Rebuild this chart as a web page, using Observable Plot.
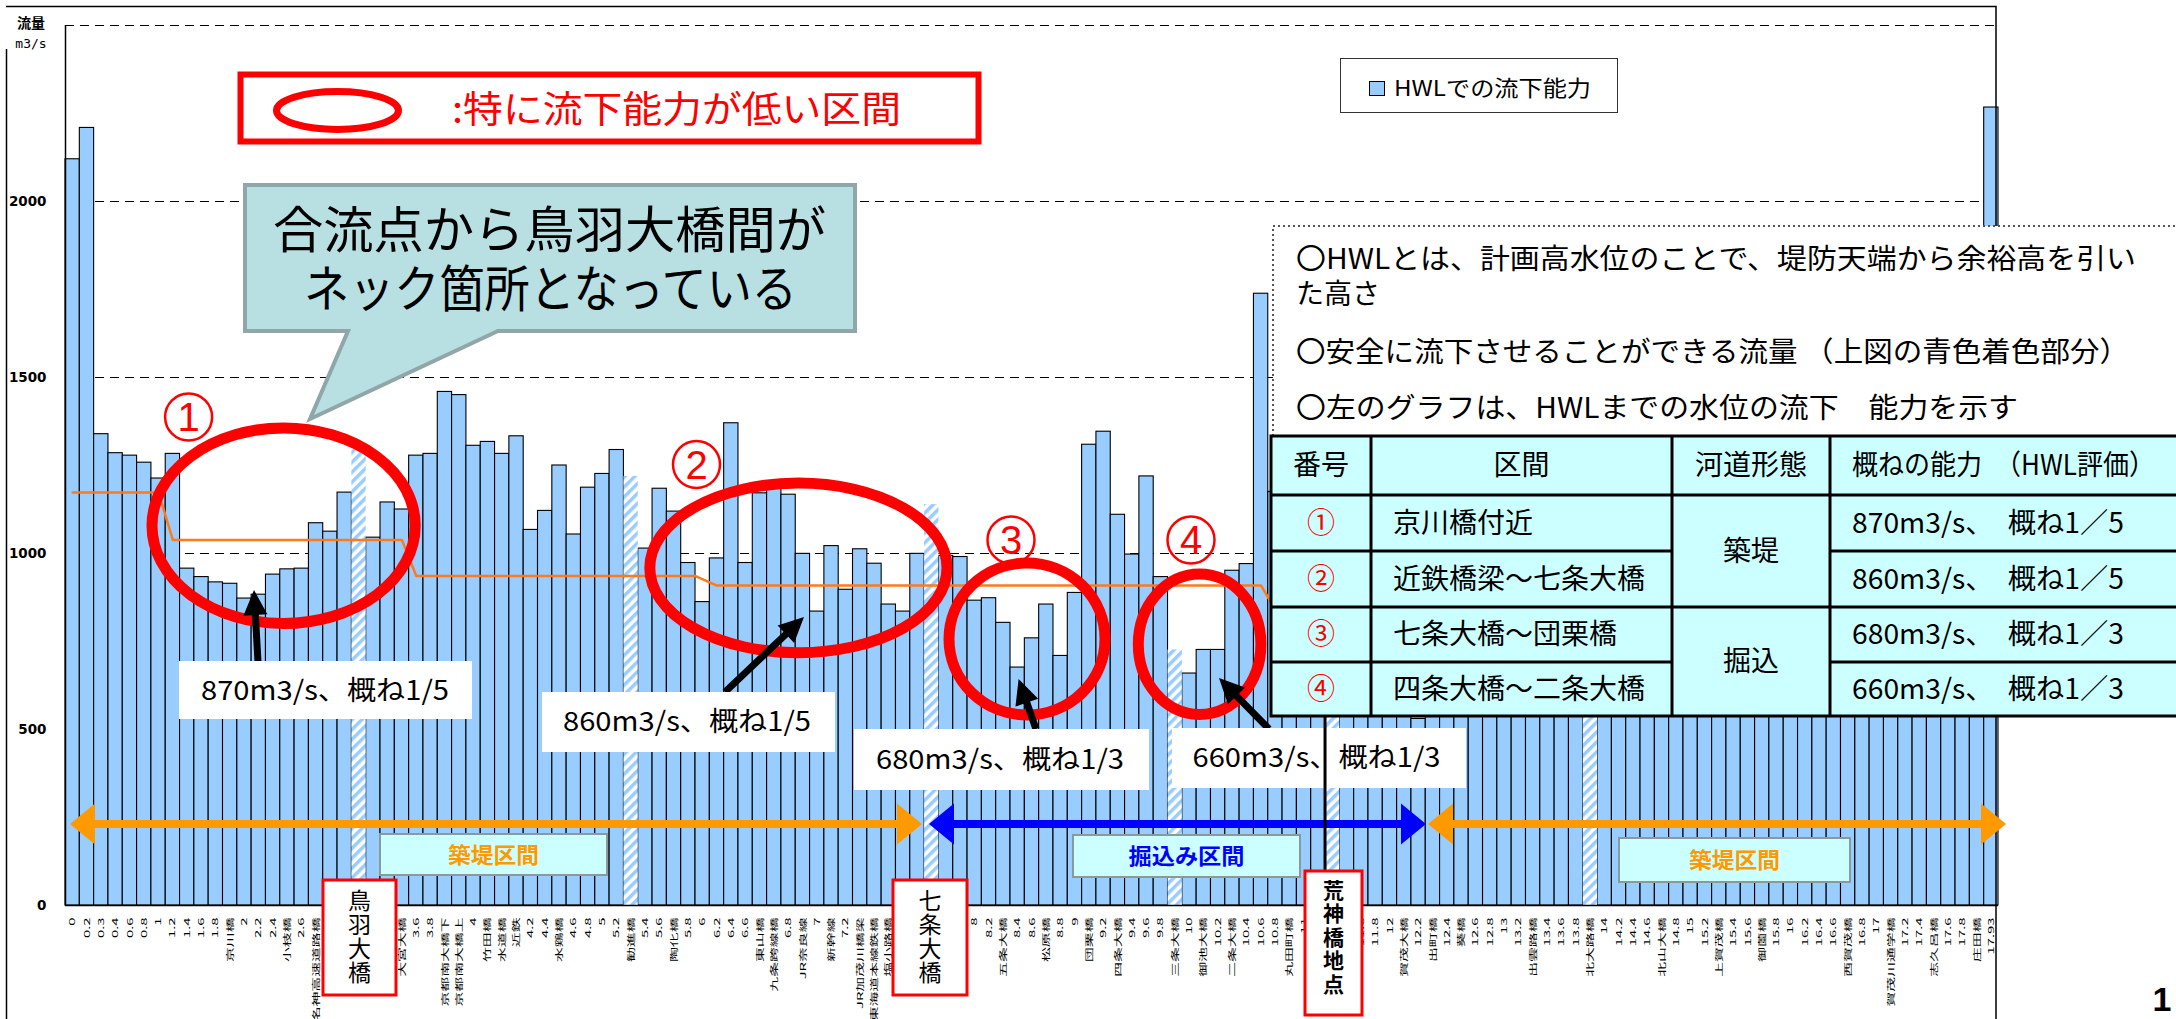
<!DOCTYPE html>
<html><head><meta charset="utf-8">
<script src="https://cdn.jsdelivr.net/npm/d3@7"></script>
<script src="https://cdn.jsdelivr.net/npm/@observablehq/plot@0.6"></script>
<style>
html,body{margin:0;padding:0;background:#fff;overflow:hidden;}
#chart{position:relative;width:2176px;height:1019px;}
</style></head><body><div id="chart"></div>
<script>
// ---- data ----
const labels = [
"0","0.2","0.3","0.4","0.6","0.8","1","1.2","1.4","1.6",
"1.8","京川橋","2","2.2","2.4","小枝橋","2.6","名神高速道路橋","","",
"","","","大宮大橋","3.6","3.8","京都南大橋下","京都南大橋上","4","竹田橋",
"水道橋","近鉄","4.2","4.4","水鶏橋","4.6","4.8","5","5.2","勧進橋",
"5.4","5.6","陶化橋","5.8","6","6.2","6.4","6.6","東山橋","九条跨線橋",
"6.8","JR奈良線","7","新幹線","7.2","JR加茂川橋梁","東海道本線鉄橋","塩小路橋","","",
"","","","8","8.2","五条大橋","8.4","8.6","松原橋","8.8",
"9","団栗橋","9.2","四条大橋","9.4","9.6","9.8","三条大橋","10","御池大橋",
"10.2","二条大橋","10.4","10.6","10.8","丸田町橋","11","","","",
"11.6","11.8","12","賀茂大橋","12.2","出町橋","12.4","葵橋","12.6","12.8",
"13","13.2","出雲路橋","13.4","13.6","13.8","北大路橋","14","14.2","14.4",
"14.6","北山大橋","14.8","15","15.2","上賀茂橋","15.4","15.6","御薗橋","15.8",
"16","16.2","16.4","16.6","西賀茂橋","16.8","17","賀茂川通学橋","17.2","17.4",
"志久呂橋","17.6","17.8","庄田橋","17.93"];
const capacity = [
2120,2209,1339,1285,1278,1258,1213,1283,957,933,
918,914,872,883,940,955,957,1086,1062,1173,
1313,1045,1145,1125,1278,1283,1459,1450,1306,1317,
1283,1333,1067,1121,1250,1054,1187,1226,1294,1219,
1014,1184,1119,973,862,986,1370,973,1171,1184,
1167,999,835,1021,897,1012,971,855,835,999,
1139,993,990,866,873,803,676,759,855,709,
888,1309,1346,1110,997,1219,933,726,659,726,
726,951,970,1738,1175,1180,1120,1150,1200,1250,
1300,1280,1350,1320,530,1280,1350,1400,1380,1420,
1450,1480,1400,1500,1520,1480,1450,1550,1600,1580,
1620,1550,1600,1650,1620,1580,1640,1660,1600,1680,
1700,1650,1720,1700,1680,1740,1760,1700,1780,1800,
1750,1820,1850,1800,2267];
const hatchedBars = [21,40,61,78,89,107];
const landmarkNames = ["鳥羽大橋","七条大橋","荒神橋地点"];
const planIdx  = [1,7,8,24,25,44.5,46,84,85];
const planFlow = [1173,1173,1038,1038,936,936,909,909,840];
const yTicks = [0,500,1000,1500,2000];
const gridValues = [1000,1500,2000,2500];

const bars = capacity.map((v,k)=>({i:k+1, v, label:labels[k], hatch:hatchedBars.includes(k+1)}));
const plan = planIdx.map((i,k)=>({i, v:planFlow[k]}));

const JP = "'Noto Sans CJK JP','Noto Sans',sans-serif";

const plot = Plot.plot({
  width: 2176, height: 1019,
  marginLeft: 65, marginRight: 178, marginTop: 25, marginBottom: 114,
  style: {fontFamily: JP, background: "white", overflow: "visible"},
  x: {type: "linear", domain: [0.5, 135.5]},
  y: {domain: [0, 2500]},
  marks: [
    Plot.ruleY(gridValues, {stroke:"#000", strokeDasharray:"9,6", strokeWidth:1.1}),
    Plot.rect(bars.filter(d=>!d.hatch), {x1:d=>d.i-0.5, x2:d=>d.i+0.5, y1:()=>0, y2:"v", fill:"#99ccff", stroke:"#000", strokeWidth:1.1}),
    Plot.rect(bars.filter(d=>d.hatch), {x1:d=>d.i-0.5, x2:d=>d.i+0.5, y1:()=>0, y2:"v", fill:"url(#hatch)"}),
    Plot.line(plan, {x:"i", y:"v", stroke:"#ff7a1a", strokeWidth:2.5}),
    Plot.ruleX([0.5], {stroke:"#000", strokeWidth:1.5}),
    Plot.ruleY([0], {stroke:"#000", strokeWidth:1.5}),
    Plot.axisX(bars.map(d=>d.i), {tickFormat:i=>labels[i-1], tickRotate:-90, tickSize:0, tickPadding:12, fontSize:14, label:null}),
    Plot.axisY(yTicks, {tickFormat:d=>String(d), tickSize:0, tickPadding:19, fontSize:13.5, fontWeight:"bold", fontFamily:"'DejaVu Sans',sans-serif", label:null})
  ]
});
document.getElementById("chart").appendChild(plot);

const svg = d3.select(plot);
// condensed tick labels like the reference
svg.selectAll('g[aria-label="x-axis tick label"] text').each(function(){
  const t = this.getAttribute("transform") || "";
  this.setAttribute("transform", t + " scale(1.06,0.58)");
});
// hatch pattern
const defs = svg.insert("defs", ":first-child");
const pat = defs.append("pattern").attr("id","hatch").attr("patternUnits","userSpaceOnUse")
  .attr("width",7).attr("height",7).attr("patternTransform","rotate(45)");
pat.append("rect").attr("width",7).attr("height",7).attr("fill","#fff");
pat.append("rect").attr("width",3.5).attr("height",7).attr("fill","#99ccff");

const sx = plot.scale("x"), sy = plot.scale("y");
const X = v => sx.apply(v), Y = v => sy.apply(v);

const g = svg.append("g").attr("font-family", JP).attr("text-anchor","start").attr("fill","#000");
function txt(x,y,s,o={}) { const t=g.append("text").attr("x",x).attr("y",y).attr("text-anchor","start").text(s); for (const k in o) t.attr(k,o[k]); return t; }
// multi-line text in one element: lines = [[x,y,str,textLength|null],...]
function mtxt(lines,o={}) {
  const t=g.append("text").attr("text-anchor","start"); for (const k in o) t.attr(k,o[k]);
  lines.forEach(([x,y,s,w])=>{ const ts=t.append("tspan").attr("x",x).attr("y",y).text(s); if (w) ts.attr("textLength",w).attr("lengthAdjust","spacingAndGlyphs"); });
  return t;
}
function arrowPoly(x1,y1,x2,y2,sw,hw,hl){
  const dx=x2-x1, dy=y2-y1, L=Math.hypot(dx,dy), ux=dx/L, uy=dy/L, nx=-uy, ny=ux;
  const bx=x2-ux*hl, by=y2-uy*hl;
  return [[x1+nx*sw/2,y1+ny*sw/2],[bx+nx*sw/2,by+ny*sw/2],[bx+nx*hw/2,by+ny*hw/2],[x2,y2],
          [bx-nx*hw/2,by-ny*hw/2],[bx-nx*sw/2,by-ny*sw/2],[x1-nx*sw/2,y1-ny*sw/2]].map(p=>p.join(",")).join(" ");
}
function dblArrow(x1,x2,y,sw,hw,hl,color){
  const p=[[x1,y],[x1+hl,y-hw/2],[x1+hl,y-sw/2],[x2-hl,y-sw/2],[x2-hl,y-hw/2],[x2,y],[x2-hl,y+hw/2],[x2-hl,y+sw/2],[x1+hl,y+sw/2],[x1+hl,y+hw/2]];
  g.append("polygon").attr("points",p.map(q=>q.join(",")).join(" ")).attr("fill",color);
}

// outer frame
g.append("path").attr("d","M6,6.5H1996V1019M6.5,49V1019").attr("fill","none").attr("stroke","#000").attr("stroke-width",1.5);
// y unit label
txt(31,28,"流量",{"text-anchor":"middle","font-size":14,"font-weight":"bold"});
txt(31,48,"m3/s",{"text-anchor":"middle","font-size":13,"font-family":"'DejaVu Sans Mono',monospace"});

// red legend box
g.append("rect").attr("x",240.5).attr("y",74.5).attr("width",738).attr("height",67).attr("fill","#fff").attr("stroke","#ff0000").attr("stroke-width",6);
g.append("ellipse").attr("cx",337.5).attr("cy",110.5).attr("rx",61).attr("ry",19).attr("fill","none").attr("stroke","#ff0000").attr("stroke-width",7);
txt(452,123,":特に流下能力が低い区間",{"font-size":37,"fill":"#ff0000","textLength":449,"lengthAdjust":"spacingAndGlyphs"});

// callout
g.append("polygon").attr("points","245,185 855,185 855,331 498,331 310,419 348,331 245,331")
  .attr("fill","#b8dfe2").attr("stroke","#8fa7a9").attr("stroke-width",4).attr("stroke-linejoin","miter");
mtxt([[273,248,"合流点から鳥羽大橋間が",553],[304,307,"ネック箇所となっている",493]],{"font-size":50});

// HWL legend
g.append("rect").attr("x",1340.5).attr("y",58.5).attr("width",277).attr("height",54).attr("fill","#fff").attr("stroke","#333").attr("stroke-width",1);
g.append("rect").attr("x",1369.5).attr("y",81.5).attr("width",15).attr("height",14).attr("fill","#99ccff").attr("stroke","#000").attr("stroke-width",1);
txt(1394,96,"HWLでの流下能力",{"font-size":22,"textLength":197,"lengthAdjust":"spacingAndGlyphs"});

// circled numbers
[[188.6,417,"1"],[696.5,464.5,"2"],[1011,540,"3"],[1191,540,"4"]].forEach(([cx,cy,n])=>{
  g.append("circle").attr("cx",cx).attr("cy",cy).attr("r",23.5).attr("fill","none").attr("stroke","#ff0000").attr("stroke-width",2.5);
  txt(cx,cy+14,n,{"text-anchor":"middle","font-size":40,"fill":"#ff0000","font-family":"'Liberation Sans',Arial,sans-serif"});
});

// red ellipses
[[283.6,525.7,131.6,97.8],[798.4,567.9,148.6,84.8],[1027,639,78,76],[1199.6,644.2,61.3,70.2]].forEach(([cx,cy,rx,ry])=>{
  g.append("ellipse").attr("cx",cx).attr("cy",cy).attr("rx",rx).attr("ry",ry).attr("fill","none").attr("stroke","#ff0000").attr("stroke-width",11);
});

// black arrows
[[258,662,254,590],[725,692,804,617],[1036,729,1018.6,679],[1269,729,1219,678]].forEach(([a,b,c,d])=>{
  g.append("polygon").attr("points",arrowPoly(a,b,c,d,7,24,25)).attr("fill","#000");
});

// value label boxes
[[179,661,472,719,"870m3/s、概ね1/5",201,700],[542,692,835,752,"860m3/s、概ね1/5",563,731],
 [854,729,1149,790,"680m3/s、概ね1/3",876,769],[1172,728,1466,788,"660m3/s、概ね1/3",1192.5,767]].forEach(([x1,y1,x2,y2,s,tx,ty])=>{
  g.append("rect").attr("x",x1).attr("y",y1).attr("width",x2-x1).attr("height",y2-y1).attr("fill","#fff");
  txt(tx,ty,s,{"font-size":27,"textLength":248,"lengthAdjust":"spacingAndGlyphs"});
});

// section arrows
dblArrow(70,922,824,8,41,25,"#ff9900");
dblArrow(929,1426,824,8,41,25,"#0000ff");
dblArrow(1428,2006,824,8,41,25,"#ff9900");

// section boxes
[[380,834,607,875,"築堤区間","#ff9900",91],[1073,835,1300,877,"掘込み区間","#0000ff",116],[1619,838,1850,882,"築堤区間","#ff9900",91]].forEach(([x1,y1,x2,y2,s,c,w])=>{
  g.append("rect").attr("x",x1).attr("y",y1).attr("width",x2-x1).attr("height",y2-y1).attr("fill","#ccffff").attr("stroke","#889a9a").attr("stroke-width",2);
  txt((x1+x2)/2 - w/2,(y1+y2)/2+8,s,{"font-size":22,"font-weight":"bold","fill":c,"textLength":w,"lengthAdjust":"spacingAndGlyphs"});
});

// 荒神橋 marker line
g.append("line").attr("x1",X(88.5)).attr("x2",X(88.5)).attr("y1",716).attr("y2",Y(0)).attr("stroke","#000").attr("stroke-width",3);

// landmark boxes (vertical text, one text element each)
[[323,880,396,995,landmarkNames[0],888.5,23,1,"normal"],
 [893,880,967,995,landmarkNames[1],888.5,23,1,"normal"],
 [1305,871,1362,1015,landmarkNames[2],879.5,21,2.5,"bold"]].forEach(([x1,y1,x2,y2,s,ys,fs,ls,fw])=>{
  g.append("rect").attr("x",x1).attr("y",y1).attr("width",x2-x1).attr("height",y2-y1).attr("fill","#fff").attr("stroke","#ff0000").attr("stroke-width",3);
  txt((x1+x2)/2, ys, s, {"writing-mode":"vertical-rl","font-size":fs,"font-weight":fw,"letter-spacing":ls,"style":"text-orientation:upright"});
});

// notes box
g.append("rect").attr("x",1273).attr("y",226).attr("width",920).attr("height",210).attr("fill","#fff").attr("stroke","#555").attr("stroke-width",2).attr("stroke-dasharray","2,3");
mtxt([[1296,269,"〇HWLとは、計画高水位のことで、堤防天端から余裕高を引い",840],[1296,304,"た高さ",null]],{"font-size":28});
txt(1296,362,"〇安全に流下させることができる流量 （上図の青色着色部分）",{"font-size":28,"textLength":833,"lengthAdjust":"spacingAndGlyphs"});
txt(1296,418,"〇左のグラフは、HWLまでの水位の流下　能力を示す",{"font-size":28,"textLength":722,"lengthAdjust":"spacingAndGlyphs"});

// table
g.append("rect").attr("x",1271).attr("y",436).attr("width",920).attr("height",280).attr("fill","#ccffff").attr("stroke","#000").attr("stroke-width",3);
const tl = (x1,y1,x2,y2)=>g.append("line").attr("x1",x1).attr("y1",y1).attr("x2",x2).attr("y2",y2).attr("stroke","#000").attr("stroke-width",3);
tl(1271,495,2191,495); tl(1271,607,2191,607);
tl(1271,551,1672,551); tl(1830,551,2191,551);
tl(1271,662,1672,662); tl(1830,662,2191,662);
tl(1371,436,1371,716); tl(1672,436,1672,716); tl(1830,436,1830,716);
txt(1321,475,"番号",{"text-anchor":"middle","font-size":28});
txt(1521.5,475,"区間",{"text-anchor":"middle","font-size":28});
txt(1751,475,"河道形態",{"text-anchor":"middle","font-size":28});
txt(1852,475,"概ねの能力　（HWL評価）",{"font-size":28,"textLength":303,"lengthAdjust":"spacingAndGlyphs"});
const rowsY = [533,589,644,699];
const sections = ["京川橋付近","近鉄橋梁～七条大橋","七条大橋～団栗橋","四条大橋～二条大橋"];
const abilities = ["870m3/s、　概ね1／5","860m3/s、　概ね1／5","680m3/s、　概ね1／3","660m3/s、　概ね1／3"];
["①","②","③","④"].forEach((c,k)=>{
  txt(1321,rowsY[k],c,{"text-anchor":"middle","font-size":28,"fill":"#ff0000"});
  txt(1393,rowsY[k],sections[k],{"font-size":28});
  txt(1852,rowsY[k],abilities[k],{"font-size":28,"textLength":272,"lengthAdjust":"spacingAndGlyphs"});
});
txt(1751,561,"築堤",{"text-anchor":"middle","font-size":28});
txt(1751,671,"掘込",{"text-anchor":"middle","font-size":28});

// page number
txt(2162,1011,"1",{"text-anchor":"middle","font-size":34,"font-weight":"bold","font-family":"'Liberation Sans',Arial,sans-serif"});
</script></body></html>
